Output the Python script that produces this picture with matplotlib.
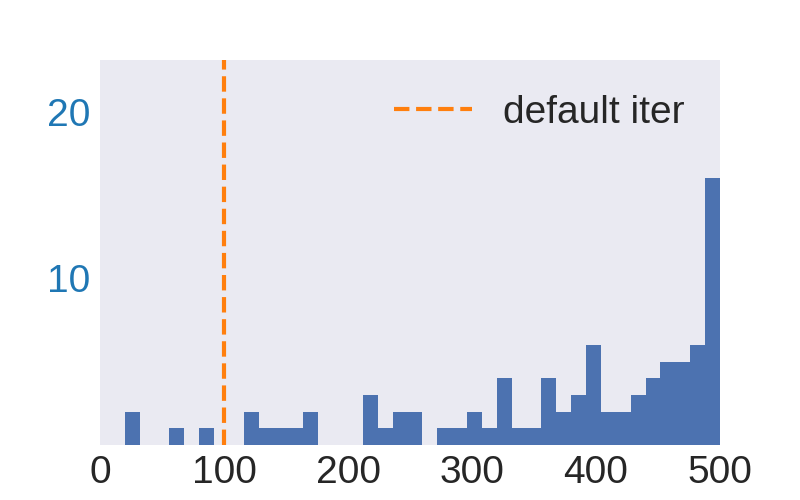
import matplotlib
matplotlib.use('agg')
import matplotlib.pyplot as plt
import numpy as np
import seaborn as sns

# histogram of iterations: 40 bins between 20 and 500
bin_lo = 20
bin_hi = 500
counts = [2, 0, 0, 1, 0, 1, 0, 0, 2, 1,
          1, 1, 2, 0, 0, 0, 3, 1, 2, 2,
          0, 1, 1, 2, 1, 4, 1, 1, 4, 2,
          3, 6, 2, 2, 3, 4, 5, 5, 6, 16]
default_iter = 100
x_ticks = [0, 100, 200, 300, 400, 500]
y_ticks = [10, 20]

sns.set_style("dark")
plt.rcParams['font.family'] = ['Liberation Sans', 'DejaVu Sans']

edges = np.linspace(bin_lo, bin_hi, len(counts) + 1)
centers = (edges[:-1] + edges[1:]) / 2

fig, ax = plt.subplots(figsize=(8, 5), dpi=100)
ax.hist(centers, bins=edges, weights=counts, color="#4C72B0", linewidth=0)
ax.axvline(default_iter, color="#ff7f0e", linestyle="--", linewidth=3,
           label="default iter")

ax.set_xlim(0, 500)
ax.set_ylim(0, 23.1)
ax.set_xticks(x_ticks)
ax.set_yticks(y_ticks)
ax.tick_params(axis="x", labelsize=28, colors="#262626")
ax.tick_params(axis="y", labelsize=28, colors="#1f77b4")
for s in ax.spines.values():
    s.set_visible(False)
ax.legend(loc="upper right", frameon=False, fontsize=28)

plt.savefig("out.png")
